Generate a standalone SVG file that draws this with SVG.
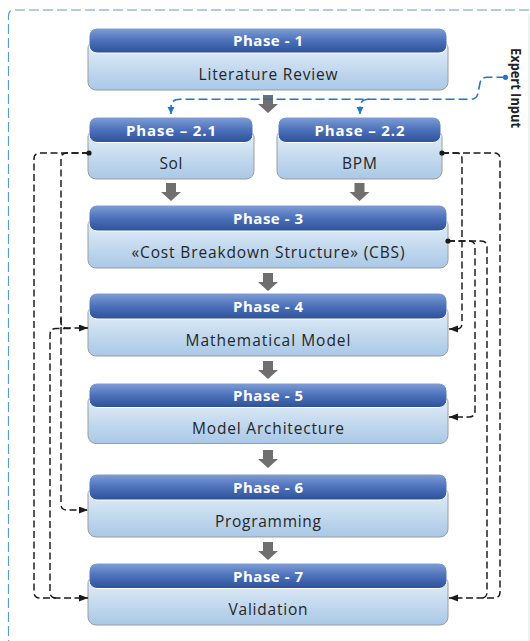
<svg xmlns="http://www.w3.org/2000/svg" width="530" height="641" viewBox="0 0 530 641">
<defs>
<linearGradient id="gh" x1="0" y1="0" x2="0" y2="1">
<stop offset="0" stop-color="#819fd6"/>
<stop offset="0.5" stop-color="#4d72bb"/>
<stop offset="1" stop-color="#2c5198"/>
</linearGradient>
<linearGradient id="gb" x1="0" y1="0" x2="0" y2="1">
<stop offset="0" stop-color="#e6f0f9"/>
<stop offset="0.35" stop-color="#d2e3f3"/>
<stop offset="1" stop-color="#a9c8e6"/>
</linearGradient>
<marker id="ak" markerUnits="userSpaceOnUse" markerWidth="10" markerHeight="8" refX="9" refY="3.5" orient="auto">
<path d="M0,0 L9,3.5 L0,7 z" fill="#1a1a1a"/>
</marker>
<marker id="ab" markerUnits="userSpaceOnUse" markerWidth="9" markerHeight="8" refX="7" refY="3.5" orient="auto">
<path d="M0,0 L7,3.5 L0,7 z" fill="#1f77c9"/>
</marker>
</defs>
<style>
.bd{fill:url(#gb);stroke:#9c9c9c;stroke-width:1}
.hd{fill:url(#gh);stroke:#ffffff;stroke-width:1}
.ht{font-family:"Open Sans","Liberation Sans",sans-serif;font-weight:700;font-size:15px;fill:#ffffff;text-anchor:middle}
.bt{font-family:"Open Sans","Liberation Sans",sans-serif;font-size:15.5px;fill:#262626;text-anchor:middle}
.dk{fill:none;stroke:#1a1a1a;stroke-width:1.45;stroke-dasharray:7 3.5}
.bl{fill:none;stroke:#1f77c9;stroke-width:1.6;stroke-dasharray:9 4}
.ga{fill:#6f6f6f}
.dot{fill:#1a1a1a}
</style>

<g id="frame">
<path d="M8.5 650 V16 Q8.5 10 14.5 10 H540" fill="none" stroke="#5a9bd8" stroke-width="1.2" stroke-dasharray="10 4"/>
<line x1="529" y1="14" x2="529" y2="641" stroke="#dfe5ec" stroke-width="1"/>
</g>

<g id="phase1">
<rect class="bd" x="88" y="40" width="360" height="50" rx="8"/>
<rect class="hd" x="89" y="28" width="358" height="25" rx="8"/>
<text class="ht" x="268" y="46" textLength="70">Phase - 1</text>
<text class="bt" x="268" y="80" textLength="139">Literature Review</text>
</g>

<g id="phase2-1">
<rect class="bd" x="88" y="129" width="166" height="50" rx="8"/>
<rect class="hd" x="89" y="117" width="164" height="25.5" rx="8"/>
<text class="ht" x="171" y="135.5" textLength="90">Phase – 2.1</text>
<text class="bt" x="171" y="169" textLength="23">SoI</text>
</g>

<g id="phase2-2">
<rect class="bd" x="277" y="129" width="165" height="50" rx="8"/>
<rect class="hd" x="278" y="117" width="163" height="25.5" rx="8"/>
<text class="ht" x="359.5" y="135.5" textLength="90">Phase – 2.2</text>
<text class="bt" x="359.5" y="169" textLength="35">BPM</text>
</g>

<g id="phase3">
<rect class="bd" x="88" y="217" width="360" height="51" rx="8"/>
<rect class="hd" x="89" y="205" width="358" height="26" rx="8"/>
<text class="ht" x="268" y="223.5" textLength="70">Phase - 3</text>
<text class="bt" x="268" y="258" textLength="273">«Cost Breakdown Structure» (CBS)</text>
</g>

<g id="phase4">
<rect class="bd" x="88" y="305" width="360" height="51" rx="8"/>
<rect class="hd" x="89" y="293" width="358" height="26" rx="8"/>
<text class="ht" x="268" y="312" textLength="70">Phase - 4</text>
<text class="bt" x="268" y="346" textLength="165">Mathematical Model</text>
</g>

<g id="phase5">
<rect class="bd" x="88" y="394" width="360" height="49.5" rx="8"/>
<rect class="hd" x="89" y="383" width="358" height="24.5" rx="8"/>
<text class="ht" x="268" y="400.5" textLength="70">Phase - 5</text>
<text class="bt" x="268" y="434" textLength="152">Model Architecture</text>
</g>

<g id="phase6">
<rect class="bd" x="88" y="486" width="360" height="51" rx="8"/>
<rect class="hd" x="89" y="474" width="358" height="26" rx="8"/>
<text class="ht" x="268" y="493" textLength="70">Phase - 6</text>
<text class="bt" x="268" y="527" textLength="106">Programming</text>
</g>

<g id="phase7">
<rect class="bd" x="88" y="575" width="360" height="50" rx="8"/>
<rect class="hd" x="89" y="563" width="358" height="25.5" rx="8"/>
<text class="ht" x="268" y="582" textLength="70">Phase - 7</text>
<text class="bt" x="268" y="615" textLength="79">Validation</text>
</g>

<g id="expert-input">
<text x="0" y="0" transform="translate(511 88) rotate(90)" font-family="'Open Sans','Liberation Sans',sans-serif" font-weight="700" font-size="15" fill="#222222" text-anchor="middle" textLength="80" lengthAdjust="spacingAndGlyphs">Expert Input</text>
</g>

<g id="connectors">
<polygon class="ga" points="263,95 273,95 273,104 278,104 268,113 258,104 263,104"/>
<polygon class="ga" points="166,183 176,183 176,192 181,192 171,201 161,192 166,192"/>
<polygon class="ga" points="354.5,183 364.5,183 364.5,192 369.5,192 359.5,201 349.5,192 354.5,192"/>
<polygon class="ga" points="263,273 273,273 273,282 278,282 268,291 258,282 263,282"/>
<polygon class="ga" points="263,361 273,361 273,370 278,370 268,379 258,370 263,370"/>
<polygon class="ga" points="263,450 273,450 273,459 278,459 268,468 258,459 263,459"/>
<polygon class="ga" points="263,542 273,542 273,551 278,551 268,560 258,551 263,551"/>

<path class="bl" d="M505.5 77.3 H487 Q481 77.3 480 83 L478 93 Q477 99.3 470 99.3 H180 Q171 99.3 171 107 V114" marker-end="url(#ab)"/>
<path class="bl" d="M369 99.3 Q360 99.3 360 107 V114" marker-end="url(#ab)"/>
<circle cx="505.5" cy="77.3" r="2.6" fill="#1f77c9"/>

<path class="dk" d="M89 153 H40 Q34 153 34 159 V592 Q34 598 40 598 H88" marker-end="url(#ak)"/>
<path class="dk" d="M89 153 H67 Q61 153 61 159 V504 Q61 510 67 510 H88" marker-end="url(#ak)"/>
<path class="dk" d="M61 318 V322 Q61 328 67 328 H88" marker-end="url(#ak)"/>
<path class="dk" d="M70 328.5 H56 Q50 328.5 50 335 V592 Q50 598 56 598"/>
<circle class="dot" cx="89" cy="153" r="2.6"/>

<path class="dk" d="M442 153 H494 Q500 153 500 159 V592 Q500 598 494 598 H449" marker-end="url(#ak)"/>
<path class="dk" d="M442 153 H456 Q462 153 462 159 V323 Q462 329 456 329 H449" marker-end="url(#ak)"/>
<path class="dk" d="M448 241 H469 Q475 241 475 247 V411 Q475 417 469 417 H449" marker-end="url(#ak)"/>
<path class="dk" d="M448 241 H481 Q487 241 487 247 V592 Q487 598 481 598"/>
<circle class="dot" cx="442" cy="153" r="2.6"/>
<circle class="dot" cx="448" cy="241" r="2.6"/>
</g>
</svg>
